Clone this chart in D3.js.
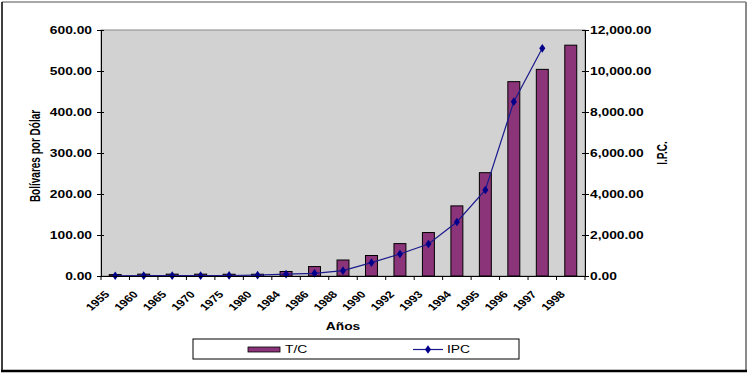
<!DOCTYPE html>
<html>
<head>
<meta charset="utf-8">
<script src="https://cdn.jsdelivr.net/npm/d3@7"></script>
<style>
  body { margin: 0; background: #fff; }
  text { font-family: "Liberation Sans", Arial, sans-serif; font-weight: bold; font-size: 10px; fill: #000; }
</style>
</head>
<body>
<div id="chart"></div>
<script>
// data
var years = ["1955", "1960", "1965", "1970", "1975", "1980", "1984", "1986", "1988",
             "1990", "1992", "1993", "1994", "1995", "1996", "1997", "1998"];
var tcValues = [3.4, 4.5, 4.5, 4.5, 4.3, 4.3, 11, 23, 39, 50, 79, 106, 171, 252, 474, 504, 563];
var ipcValues = [12, 15, 16, 18, 25, 40, 90, 130, 260, 650, 1073, 1561, 2634, 4195, 8503, 11107, null];
var leftTicks = [0, 100, 200, 300, 400, 500, 600];
var rightTicks = [0, 2000, 4000, 6000, 8000, 10000, 12000];

var W = 749, H = 374;
var plot = {left: 101, right: 585, top: 30, bottom: 276};
var sx = 1.38; // picture is stretched horizontally

var svg = d3.select("#chart").append("svg")
    .attr("width", W)
    .attr("height", H);

// outer frame: gray top/right, black left/bottom
svg.append("line").attr("x1", 2).attr("x2", 746).attr("y1", 2).attr("y2", 2).attr("stroke", "#8a8a8a").attr("stroke-width", 1.5);
svg.append("line").attr("x1", 746).attr("x2", 746).attr("y1", 2).attr("y2", 371).attr("stroke", "#8a8a8a").attr("stroke-width", 2);
svg.append("line").attr("x1", 2).attr("x2", 2).attr("y1", 2).attr("y2", 371).attr("stroke", "#000").attr("stroke-width", 1.5);
svg.append("line").attr("x1", 1).attr("x2", 747).attr("y1", 371).attr("y2", 371).attr("stroke", "#000").attr("stroke-width", 2.5);

var x = d3.scaleBand()
    .domain(years)
    .range([plot.left, plot.right])
    .paddingInner(0.58)
    .paddingOuter(0.29);

var yLeft = d3.scaleLinear().domain([0, 600]).range([plot.bottom, plot.top]);
var yRight = d3.scaleLinear().domain([0, 12000]).range([plot.bottom, plot.top]);

// plot area
svg.append("rect")
    .attr("x", plot.left).attr("y", plot.top)
    .attr("width", plot.right - plot.left).attr("height", plot.bottom - plot.top)
    .attr("fill", "#d2d2d2")
    .attr("stroke", "#8a8a8a");

// bars
svg.selectAll(".bar")
    .data(tcValues)
    .enter()
    .append("rect")
    .attr("class", "bar")
    .attr("x", (d, i) => x(years[i]))
    .attr("y", d => yLeft(d))
    .attr("width", x.bandwidth())
    .attr("height", d => plot.bottom - yLeft(d))
    .attr("fill", "#8c3479")
    .attr("stroke", "#000")
    .attr("stroke-width", 1);

// IPC line
var cx = (d, i) => x(years[i]) + x.bandwidth() / 2;
var line = d3.line()
    .defined(d => d != null)
    .x(cx)
    .y(d => yRight(d));

svg.append("path")
    .datum(ipcValues)
    .attr("d", line)
    .attr("fill", "none")
    .attr("stroke", "#1a1a8c")
    .attr("stroke-width", 1.2);

var diamond = d3.symbol().type(d3.symbolDiamond).size(22);
svg.selectAll(".pt")
    .data(ipcValues.map((d, i) => [d, i]).filter(p => p[0] != null))
    .enter()
    .append("path")
    .attr("class", "pt")
    .attr("d", diamond)
    .attr("transform", p => `translate(${cx(p[0], p[1])},${yRight(p[0])}) scale(1.2,1)`)
    .attr("fill", "#00008b");

var fmt = d3.format(",.2f");

// left axis
var gL = svg.append("g")
    .attr("transform", `translate(${plot.left},0)`)
    .call(d3.axisLeft(yLeft).tickValues(leftTicks).tickFormat(d3.format(".2f")).tickSize(4).tickPadding(0));
gL.select(".domain").attr("stroke", "#000");
gL.selectAll(".tick line").attr("x1", 3);
gL.selectAll(".tick text")
    .attr("x", null)
    .attr("transform", `translate(-9,0) scale(${sx},1)`);

// right axis
var gR = svg.append("g")
    .attr("transform", `translate(${plot.right},0)`)
    .call(d3.axisRight(yRight).tickValues(rightTicks).tickFormat(fmt).tickSize(4).tickPadding(0));
gR.select(".domain").attr("stroke", "#000");
gR.selectAll(".tick line").attr("x1", -3);
gR.selectAll(".tick text")
    .attr("x", null)
    .attr("transform", `translate(5,0) scale(${sx},1)`);

// bottom axis, ticks at category edges
var gB = svg.append("g")
    .attr("transform", `translate(0,${plot.bottom})`)
    .call(d3.axisBottom(x).tickSize(4).tickSizeOuter(0));
gB.select(".domain").attr("stroke", "#000");
gB.selectAll(".tick line").attr("x1", -x.step() / 2).attr("x2", -x.step() / 2);
gB.append("line")
    .attr("x1", plot.right).attr("x2", plot.right)
    .attr("y1", 0).attr("y2", 4)
    .attr("stroke", "#000");
gB.selectAll(".tick text")
    .attr("y", null).attr("dy", null)
    .attr("text-anchor", "end")
    .attr("transform", `translate(-5,19) scale(1.25,1) rotate(-47)`);

// axis titles
svg.append("text")
    .attr("transform", `translate(40,156) scale(${sx},1) rotate(-90)`)
    .attr("text-anchor", "middle")
    .text("Bolívares por Dólar");

svg.append("text")
    .attr("transform", `translate(667,153) scale(${sx},1) rotate(-90)`)
    .attr("text-anchor", "middle")
    .text("I.P.C.");

svg.append("text")
    .attr("transform", `translate(343,330) scale(${sx},1)`)
    .attr("text-anchor", "middle")
    .text("Años");

// legend
var lg = svg.append("g");
lg.append("rect")
    .attr("x", 193).attr("y", 339).attr("width", 326).attr("height", 20)
    .attr("fill", "#fff").attr("stroke", "#000");
lg.append("rect")
    .attr("x", 248).attr("y", 347).attr("width", 32).attr("height", 5)
    .attr("fill", "#8c3479").attr("stroke", "#000").attr("stroke-width", 0.8);
lg.append("text")
    .attr("transform", `translate(285,353) scale(${sx},1)`)
    .style("font-weight", "normal")
    .text("T/C");
lg.append("line")
    .attr("x1", 413).attr("x2", 443).attr("y1", 349.5).attr("y2", 349.5)
    .attr("stroke", "#1a1a8c").attr("stroke-width", 1.2);
lg.append("path")
    .attr("d", diamond)
    .attr("transform", "translate(428,349.5) scale(1.2,1)")
    .attr("fill", "#00008b");
lg.append("text")
    .attr("transform", `translate(447,353) scale(${sx},1)`)
    .style("font-weight", "normal")
    .text("IPC");
</script>
</body>
</html>
